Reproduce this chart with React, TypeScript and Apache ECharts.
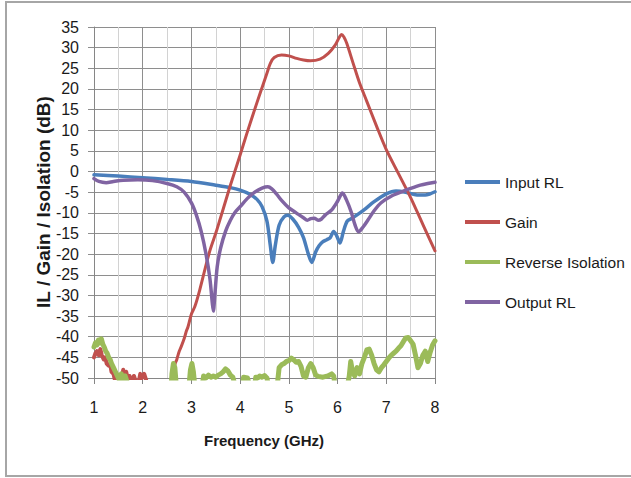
import React, { useEffect, useRef } from "react";
import * as echarts from "echarts";

// Frequency (GHz) / value (dB) arrays
const inputFreq = [1.0, 1.5, 2.0, 2.5, 3.0, 3.5, 3.8, 4.0, 4.2, 4.35, 4.45, 4.55, 4.62, 4.67, 4.72, 4.8, 4.9, 4.98, 5.08, 5.2, 5.3, 5.4, 5.47, 5.55, 5.62, 5.7, 5.78, 5.85, 5.92, 5.98, 6.05, 6.12, 6.2, 6.3, 6.4, 6.55, 6.75, 7.0, 7.2, 7.4, 7.6, 7.8, 7.9, 8.0];
const inputRL = [-0.8, -1.1, -1.5, -1.9, -2.4, -3.3, -3.9, -4.5, -5.5, -6.8, -8.5, -12, -18, -22, -18, -13, -11, -10.6, -11.5, -13.5, -16, -20, -22, -19.5, -18, -17, -16.5, -16, -14.5, -15.5, -17.3, -14.5, -12, -11.3, -10.5, -9.2, -7.3, -5.4, -4.7, -5.0, -5.6, -5.7, -5.4, -4.9];

const gainLowFreq = [1.0, 1.03, 1.06, 1.1, 1.13, 1.16, 1.2, 1.23, 1.26, 1.3, 1.33, 1.36, 1.4, 1.43, 1.46, 1.5, 1.55, 1.6, 1.63, 1.66, 1.7, 1.73, 1.78, 1.82, 1.86, 1.9, 1.95, 1.98, 2.03, 2.07, 2.12];
const gainLow = [-45, -44, -43.5, -44.5, -43, -44.5, -45.5, -45, -46.5, -47, -46.5, -48.5, -49, -50.5, -49.8, -51, -52, -48, -50.5, -48.5, -50.5, -49.5, -51, -49.5, -51, -52, -49, -50, -49, -50.5, -52];

const gainFreq = [2.62, 2.66, 2.7, 2.75, 2.79, 2.85, 2.9, 2.93, 3.0, 3.07, 3.17, 3.37, 3.52, 3.79, 4.0, 4.14, 4.34, 4.47, 4.55, 4.62, 4.7, 4.85, 5.0, 5.16, 5.3, 5.44, 5.64, 5.81, 5.95, 6.04, 6.08, 6.13, 6.19, 6.32, 6.45, 6.6, 6.8, 7.0, 7.25, 7.5, 7.75, 8.0];
const gain = [-52, -46.8, -45.5, -43.5, -42.4, -40.5, -38.5, -37.6, -34.5, -32.7, -28.7, -19.5, -14.2, -3.7, 4.0, 9.3, 16.5, 21.0, 23.8, 26.2, 27.6, 28.2, 28.0, 27.4, 27.0, 26.8, 27.2, 28.6, 30.6, 32.6, 33.2, 32.6, 31.0, 26.2, 21.5, 17.0, 11.0, 5.3, -0.5, -6.3, -12.8, -19.2];

const isoFreq = [1.0, 1.03, 1.06, 1.09, 1.12, 1.15, 1.18, 1.21, 1.24, 1.27, 1.3, 1.33, 1.36, 1.4, 1.44, 1.48, 1.52, 1.56, 1.6, 1.64, 1.68, 1.72, 2.58, 2.6, 2.63, 2.66, 2.69, 2.95, 2.98, 3.01, 3.04, 3.07, 3.22, 3.25, 3.3, 3.35, 3.4, 3.45, 3.5, 3.55, 3.6, 3.65, 3.7, 3.75, 3.8, 3.85, 3.9, 4.05, 4.07, 4.15, 4.2, 4.3, 4.32, 4.36, 4.4, 4.45, 4.5, 4.55, 4.58, 4.76, 4.8, 4.85, 4.9, 4.95, 5.0, 5.05, 5.1, 5.15, 5.2, 5.25, 5.3, 5.35, 5.4, 5.45, 5.5, 5.55, 5.6, 5.7, 5.8, 5.88, 5.92, 5.95, 6.2, 6.24, 6.27, 6.3, 6.35, 6.4, 6.45, 6.5, 6.55, 6.6, 6.65, 6.7, 6.75, 6.8, 6.85, 6.9, 6.95, 7.0, 7.05, 7.1, 7.15, 7.2, 7.25, 7.3, 7.35, 7.4, 7.45, 7.5, 7.55, 7.6, 7.65, 7.7, 7.75, 7.8, 7.85, 7.9, 7.95, 8.0];
const isolation = [-42.5, -41.5, -42, -40.8, -41.5, -40.5, -41.8, -42.5, -43.5, -44, -45, -45.5, -46.5, -47.5, -48.5, -49.5, -50.5, -49, -50.5, -49.5, -51, -53, -53, -49, -46.5, -47.5, -52, -52, -48, -46.5, -48.5, -52, -52, -49.5, -50, -49.3, -49.8, -49.5, -49.8, -49.3, -49, -48.5, -47.8, -48.3, -49.3, -49.8, -52, -52, -49.8, -50, -52, -52, -49.8, -50, -49.5, -49.8, -49.4, -50, -52, -52, -47.5, -46.8, -46.5, -46, -45.8, -45.2, -45.6, -46.2, -46, -47.2, -49.5, -49.8, -47.5, -46.5, -47.5, -49.3, -49.6, -49.8, -49.5, -49, -49.5, -52, -52, -49.5, -46, -48, -49.5, -47.5, -49, -46.5, -45, -43.2, -43, -44.5, -46.5, -48, -48.5, -47.5, -46.8, -46, -45.2, -44.5, -44, -43.5, -42.8, -42.2, -41.2, -40.3, -40.2, -41, -41.8, -44.5, -47.5, -46.5, -44.5, -43.5, -46, -43.8, -42, -41];

const outFreq = [1.0, 1.1, 1.25, 1.4, 1.6, 1.9, 2.2, 2.5, 2.7, 2.85, 3.0, 3.1, 3.2, 3.3, 3.38, 3.43, 3.45, 3.48, 3.53, 3.6, 3.7, 3.8, 3.9, 4.0, 4.15, 4.3, 4.45, 4.57, 4.65, 4.75, 4.85, 5.0, 5.15, 5.3, 5.38, 5.45, 5.52, 5.6, 5.67, 5.75, 5.88, 6.0, 6.1, 6.18, 6.28, 6.36, 6.43, 6.52, 6.62, 6.75, 6.9, 7.1, 7.3, 7.5, 7.7, 7.85, 8.0];
const outputRL = [-1.7, -2.4, -2.7, -2.4, -2.1, -2.0, -2.2, -2.9, -3.7, -5, -7.6, -10.5, -14.5, -20, -26, -32, -33.8, -30, -23, -18.5, -14.5, -11.8, -9.8, -8.5, -6.5, -5.0, -4.0, -3.7, -4.2, -5.5, -7, -8.8, -10, -11.2, -11.8, -11.4, -11.3, -11.8, -11.5, -10.5, -9.3, -7.2, -5.2, -6.8, -9.8, -13, -14.6, -13.5, -11.8, -9.5, -7.5, -6.0, -5.0, -4.1, -3.3, -2.9, -2.6];

const legendNames = ["Input RL", "Gain", "Reverse Isolation", "Output RL"];
const xTitle = "Frequency (GHz)";
const yTitle = "IL / Gain / Isolation (dB)";

const BLUE = "#4a7ebb";
const RED = "#c0504d";
const GREEN = "#9bbb59";
const PURPLE = "#8064a2";
const FONT = "Liberation Sans";

const pairs = (xs: number[], ys: number[]) => xs.map((x, i) => [x, ys[i]]);

const lineSeries = (name: string, data: number[][], color: string, width: number, smooth: number | boolean) => ({
  type: "line",
  name,
  data,
  smooth,
  symbol: "none",
  showSymbol: false,
  clip: true,
  itemStyle: { color },
  lineStyle: { color, width, join: "round", cap: "round" },
  emphasis: { disabled: true },
});

export default function App() {
  const ref = useRef<HTMLDivElement>(null);
  useEffect(() => {
    if (!ref.current) return;
    const chart = echarts.init(ref.current, undefined, { renderer: "svg" });
    chart.setOption({
      animation: false,
      backgroundColor: "#ffffff",
      grid: { left: 94, top: 27, width: 341, height: 351, containLabel: false },
      xAxis: {
        type: "value",
        min: 1,
        max: 8,
        interval: 1,
        axisLine: { show: true, onZero: false, lineStyle: { color: "#868686", width: 1 } },
        axisTick: { show: true, length: 6, lineStyle: { color: "#868686" } },
        minorTick: { show: false, splitNumber: 2 },
        minorSplitLine: { show: true, lineStyle: { color: "#d2d2d2", width: 1 } },
        splitLine: { show: true, lineStyle: { color: "#8e8e8e", width: 1 } },
        axisLabel: { margin: 21, fontFamily: FONT, fontSize: 16, color: "#1a1a1a" },
      },
      yAxis: {
        type: "value",
        min: -50,
        max: 35,
        interval: 5,
        axisLine: { show: true, onZero: false, lineStyle: { color: "#868686", width: 1 } },
        axisTick: { show: true, length: 6, lineStyle: { color: "#8e8e8e" } },
        splitLine: { show: true, lineStyle: { color: "#8e8e8e", width: 1 } },
        axisLabel: { margin: 15, fontFamily: FONT, fontSize: 16, color: "#1a1a1a" },
      },
      legend: {
        orient: "vertical",
        left: 460,
        top: 169,
        data: legendNames,
        icon: "rect",
        itemWidth: 35,
        itemHeight: 4,
        itemGap: 24,
        selectedMode: false,
        textStyle: { fontFamily: FONT, fontSize: 15.5, color: "#1a1a1a", lineHeight: 16 },
      },
      graphic: [
        {
          type: "rect",
          shape: { x: 6, y: 2, width: 700, height: 474 },
          style: { fill: "none", stroke: "#a6a6a6", lineWidth: 2 },
          silent: true,
        },
        {
          type: "text",
          x: 264,
          y: 440,
          style: { text: xTitle, font: `bold 15px "${FONT}"`, fill: "#1a1a1a", align: "center", verticalAlign: "middle" },
        },
        {
          type: "text",
          x: 43,
          y: 202,
          rotation: Math.PI / 2,
          style: { text: yTitle, font: `bold 19px "${FONT}"`, fill: "#1a1a1a", align: "center", verticalAlign: "middle" },
        },
      ],
      series: [
        lineSeries("Input RL", pairs(inputFreq, inputRL), BLUE, 3.5, 0.3),
        lineSeries("Gain", pairs(gainLowFreq, gainLow), RED, 4, false),
        lineSeries("Gain", pairs(gainFreq, gain), RED, 3, 0.3),
        lineSeries("Reverse Isolation", pairs(isoFreq, isolation), GREEN, 5, false),
        lineSeries("Output RL", pairs(outFreq, outputRL), PURPLE, 3.5, 0.3),
      ],
    });
    return () => chart.dispose();
  }, []);
  return (
    <div
      ref={ref}
      style={{ position: "fixed", left: 0, top: 0, width: 631, height: 478, background: "#fff" }}
    />
  );
}
